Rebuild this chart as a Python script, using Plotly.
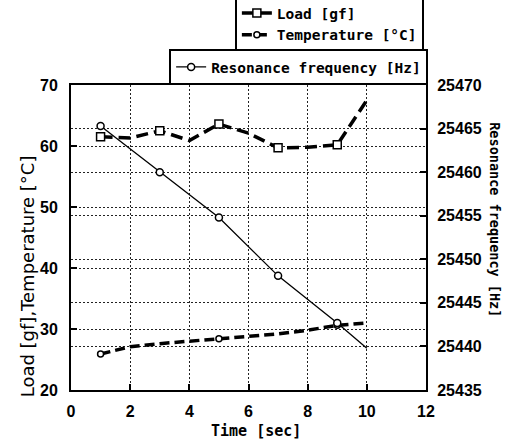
import plotly.graph_objects as go

# ---- data ----
time_s = [1, 2, 3, 4, 5, 6, 7, 8, 9, 10]
load_gf = [61.5, 61.3, 62.5, 60.9, 63.6, 62.1, 59.7, 59.8, 60.2, 67.5]
temp_c = [25.9, 27.1, 27.6, 28.0, 28.4, 28.8, 29.2, 29.8, 30.6, 31.0]

freq_time = [1, 3, 5, 7, 9, 10]
freq_hz = [25465.3, 25460.0, 25454.8, 25448.1, 25442.7, 25439.8]

load_marked = [1, 0, 1, 0, 1, 0, 1, 0, 1, 0]
temp_marked = [1, 0, 0, 0, 1, 0, 0, 0, 1, 0]
freq_marked = [1, 1, 1, 1, 1, 0]

MONO = "DejaVu Sans Mono"
TICKF = dict(family="Liberation Sans", size=16, color="black", weight="bold")


def fills(flags, col):
    return [col if f else "rgba(0,0,0,0)" for f in flags]


fig = go.Figure()

fig.add_trace(go.Scatter(
    x=time_s, y=load_gf, name="Load [gf]", mode="lines+markers",
    line=dict(color="black", width=3.5, dash="12px,6px"),
    marker=dict(symbol="square", size=8, color=fills(load_marked, "white"),
                line=dict(width=1.5, color=fills(load_marked, "black"))),
    legend="legend", yaxis="y"))

fig.add_trace(go.Scatter(
    x=time_s, y=temp_c, name="Temperature [°C]", mode="lines+markers",
    line=dict(color="black", width=3.5, dash="10px,5px"),
    marker=dict(symbol="circle", size=6, color=fills(temp_marked, "white"),
                line=dict(width=1.5, color=fills(temp_marked, "black"))),
    legend="legend", yaxis="y"))

fig.add_trace(go.Scatter(
    x=freq_time, y=freq_hz, name="Resonance frequency [Hz]", mode="lines+markers",
    line=dict(color="black", width=1.3),
    marker=dict(symbol="circle", size=7, color=fills(freq_marked, "white"),
                line=dict(width=1.5, color=fills(freq_marked, "black"))),
    legend="legend2", yaxis="y2"))

grid = dict(showgrid=True, gridcolor="#222", gridwidth=1, griddash="2px,2px")

fig.update_layout(
    width=508, height=443,
    margin=dict(l=71, r=82, t=85, b=53, autoexpand=False),
    paper_bgcolor="white", plot_bgcolor="white",
    xaxis=dict(range=[0, 12], dtick=2, tick0=0, **grid, zeroline=False,
               showline=True, linecolor="black", linewidth=2, mirror=True,
               ticks="inside", ticklen=6, tickcolor="black", tickwidth=1.5,
               tickfont=TICKF, ticklabelstandoff=6),
    yaxis=dict(range=[20, 70], dtick=10, tick0=20, **grid, zeroline=False,
               showline=True, linecolor="black", linewidth=2,
               ticks="inside", ticklen=6, tickcolor="black", tickwidth=1.5,
               tickfont=TICKF, ticklabelstandoff=8),
    yaxis2=dict(range=[25435, 25470], dtick=5, tick0=25435, overlaying="y",
                side="right", **grid, zeroline=False, tickformat="d",
                showline=True, linecolor="black", linewidth=2,
                ticks="inside", ticklen=6, tickcolor="black", tickwidth=1.5,
                tickfont=TICKF, ticklabelstandoff=6),
    legend=dict(x=0.994, y=1.105, xanchor="right", yanchor="bottom",
                bgcolor="white", bordercolor="black", borderwidth=2,
                font=dict(family=MONO, size=14.5, color="black", weight="bold"),
                itemwidth=30, tracegroupgap=0),
    legend2=dict(x=1.006, y=1.0, xanchor="right", yanchor="bottom",
                 bgcolor="white", bordercolor="black", borderwidth=2,
                 font=dict(family=MONO, size=14.5, color="black", weight="bold"),
                 itemwidth=30),
    annotations=[
        dict(text="Time [sec]", xref="paper", yref="paper", x=0.521, y=-0.134,
             xanchor="center", yanchor="middle", showarrow=False,
             font=dict(family=MONO, size=15, color="black", weight="bold")),
        dict(text="Load [gf],Temperature [°C]", xref="paper", yref="paper",
             x=-0.12, y=0.374, xanchor="center", yanchor="middle",
             textangle=-90, showarrow=False,
             font=dict(family="DejaVu Sans", size=18, color="black")),
        dict(text="Resonance frequency [Hz]", xref="paper", yref="paper",
             x=1.194, y=0.557, xanchor="center", yanchor="middle",
             textangle=90, showarrow=False,
             font=dict(family=MONO, size=13.5, color="black", weight="bold")),
    ],
)

fig.write_html("out.html")
